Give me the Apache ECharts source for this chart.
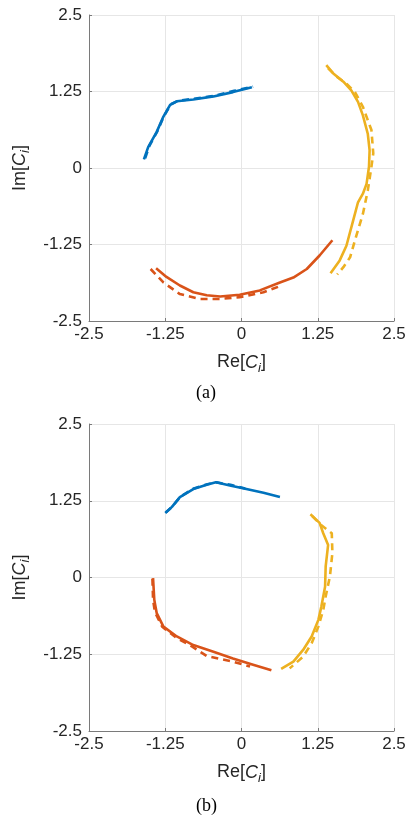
<!DOCTYPE html>
<html>
<head>
<meta charset="utf-8">
<script src="https://cdn.jsdelivr.net/npm/echarts@6/dist/echarts.min.js"></script>
<style>
html,body{margin:0;padding:0;background:#fff;}
#chart{width:409px;height:815px;}
</style>
</head>
<body>
<div id="chart"></div>
<script>
// Axis ticks
const tickValues = [-2.5, -1.25, 0, 1.25, 2.5];
const captions = ['(a)', '(b)'];

// Panel (a)
const aBlueSolid = [[-1.60,0.14],[-1.53,0.34],[-1.39,0.59],[-1.28,0.84],[-1.17,1.03],[-1.06,1.09],[-0.79,1.12],[-0.46,1.17],[-0.14,1.24],[0.17,1.32]];
const aBlueDash = [[-1.58,0.16],[-1.51,0.36],[-1.38,0.60],[-1.27,0.85],[-1.16,1.04],[-1.04,1.10],[-0.78,1.13],[-0.45,1.18],[-0.12,1.26],[0.19,1.33]];
const aYellowSolid = [[1.39,1.68],[1.50,1.55],[1.67,1.41],[1.80,1.27],[1.91,1.08],[1.99,0.86],[2.07,0.56],[2.10,0.29],[2.09,0.02],[2.05,-0.26],[1.99,-0.42],[1.91,-0.56],[1.83,-0.86],[1.72,-1.27],[1.61,-1.51],[1.46,-1.72]];
const aYellowDash = [[1.42,1.63],[1.55,1.50],[1.72,1.38],[1.86,1.24],[1.99,1.00],[2.13,0.62],[2.16,0.24],[2.13,0.02],[2.07,-0.37],[1.99,-0.75],[1.86,-1.18],[1.78,-1.46],[1.67,-1.62],[1.57,-1.74]];
const aRedSolid = [[-1.40,-1.64],[-1.23,-1.78],[-1.01,-1.92],[-0.79,-2.03],[-0.57,-2.08],[-0.35,-2.10],[-0.03,-2.07],[0.30,-2.00],[0.63,-1.87],[0.85,-1.79],[1.07,-1.65],[1.28,-1.43],[1.49,-1.18]];
const aRedDash = [[-1.49,-1.65],[-1.28,-1.87],[-1.01,-2.06],[-0.68,-2.14],[-0.35,-2.14],[-0.03,-2.11],[0.36,-2.03],[0.66,-1.92]];

// Panel (b)
const bBlueSolid = [[-1.25,1.05],[-1.14,1.15],[-1.01,1.31],[-0.79,1.44],[-0.57,1.51],[-0.42,1.55],[-0.19,1.50],[0.08,1.44],[0.36,1.38],[0.63,1.31]];
const bBlueDash = [[-1.24,1.06],[-1.13,1.16],[-1.00,1.32],[-0.78,1.45],[-0.56,1.52],[-0.41,1.55],[-0.18,1.51],[0.06,1.45]];
const bYellowSolid = [[1.13,1.03],[1.28,0.89],[1.34,0.72],[1.42,0.53],[1.38,0.18],[1.37,-0.15],[1.31,-0.47],[1.26,-0.69],[1.15,-0.96],[1.01,-1.18],[0.85,-1.37],[0.65,-1.49]];
const bYellowDash = [[1.16,1.00],[1.30,0.86],[1.48,0.72],[1.49,0.40],[1.45,0.02],[1.38,-0.31],[1.34,-0.53],[1.26,-0.80],[1.15,-1.07],[1.01,-1.29],[0.79,-1.48]];
const bRedSolid = [[-1.45,-0.01],[-1.43,-0.36],[-1.42,-0.42],[-1.39,-0.58],[-1.28,-0.80],[-1.06,-0.96],[-0.79,-1.10],[-0.46,-1.21],[-0.14,-1.32],[0.19,-1.42],[0.49,-1.51]];
const bRedDash = [[-1.46,-0.02],[-1.45,-0.36],[-1.42,-0.56],[-1.30,-0.80],[-1.07,-0.98],[-0.80,-1.13],[-0.57,-1.28],[-0.14,-1.37],[0.14,-1.45]];

const BLUE = '#0072BD', RED = '#D95319', YEL = '#EDB120';
const FONT = '"Liberation Sans", Arial, Helvetica, sans-serif';

function mkX(gi) {
  return {
    gridIndex: gi, type: 'value', min: tickValues[0], max: tickValues[tickValues.length-1], interval: 1.25,
    axisLine: {onZero: false, lineStyle: {color: '#7a7a7a', width: 1}},
    axisTick: {inside: true, length: 3, lineStyle: {color: '#7a7a7a'}},
    axisLabel: {fontSize: 17, color: '#262626', fontFamily: FONT, margin: 5, showMinLabel: true, showMaxLabel: true},
    splitLine: {show: true, lineStyle: {color: '#e6e6e6', width: 1}},
    name: '{n|Re[}{c|C}{s|i}{n|]}', nameLocation: 'middle', nameGap: 29,
    nameTextStyle: {rich: {
      n: {fontSize: 18, color: '#262626', fontFamily: FONT},
      c: {fontSize: 18, color: '#262626', fontFamily: FONT, fontStyle: 'italic'},
      s: {fontSize: 13, color: '#262626', fontFamily: FONT, fontStyle: 'italic', padding: [12,0,0,0]}
    }}
  };
}
function mkY(gi) {
  return {
    gridIndex: gi, type: 'value', min: tickValues[0], max: tickValues[tickValues.length-1], interval: 1.25,
    axisLine: {onZero: false, lineStyle: {color: '#7a7a7a', width: 1}},
    axisTick: {inside: true, length: 3, lineStyle: {color: '#7a7a7a'}},
    axisLabel: {fontSize: 17, color: '#262626', fontFamily: FONT, margin: 7, showMinLabel: true, showMaxLabel: true},
    splitLine: {show: true, lineStyle: {color: '#e6e6e6', width: 1}},
    name: '{n|Im[}{c|C}{s|i}{n|]}', nameLocation: 'middle', nameGap: 52, nameRotate: 90,
    nameTextStyle: {rich: {
      n: {fontSize: 18, color: '#262626', fontFamily: FONT},
      c: {fontSize: 18, color: '#262626', fontFamily: FONT, fontStyle: 'italic'},
      s: {fontSize: 13, color: '#262626', fontFamily: FONT, fontStyle: 'italic', padding: [12,0,0,0]}
    }}
  };
}
function ln(gi, data, color, dashed) {
  return {
    type: 'line', xAxisIndex: gi, yAxisIndex: gi, data: data, showSymbol: false, symbol: 'none',
    smooth: false, silent: true, animation: false,
    lineStyle: {color: color, width: 2.6, type: dashed ? [7, 5] : 'solid', cap: 'butt', join: 'round'}
  };
}

const chart = echarts.init(document.getElementById('chart'), null, {renderer: 'canvas'});
chart.setOption({
  animation: false,
  backgroundColor: '#ffffff',
  grid: [
    {left: 89, top: 15, width: 305, height: 306},
    {left: 89, top: 424, width: 305, height: 307}
  ],
  xAxis: [mkX(0), mkX(1)],
  yAxis: [mkY(0), mkY(1)],
  series: [
    ln(0, aBlueSolid, BLUE, false), ln(0, aBlueDash, BLUE, true),
    ln(0, aRedSolid, RED, false), ln(0, aRedDash, RED, true),
    ln(0, aYellowSolid, YEL, false), ln(0, aYellowDash, YEL, true),
    ln(1, bBlueSolid, BLUE, false), ln(1, bBlueDash, BLUE, true),
    ln(1, bRedSolid, RED, false), ln(1, bRedDash, RED, true),
    ln(1, bYellowSolid, YEL, false), ln(1, bYellowDash, YEL, true)
  ],
  graphic: [
    {type: 'text', left: 196, top: 384, style: {text: captions[0], fontSize: 18, fill: '#000', fontFamily: '"Liberation Serif", "Times New Roman", serif'}},
    {type: 'text', left: 196, top: 797, style: {text: captions[1], fontSize: 18, fill: '#000', fontFamily: '"Liberation Serif", "Times New Roman", serif'}}
  ]
});
</script>
</body>
</html>
